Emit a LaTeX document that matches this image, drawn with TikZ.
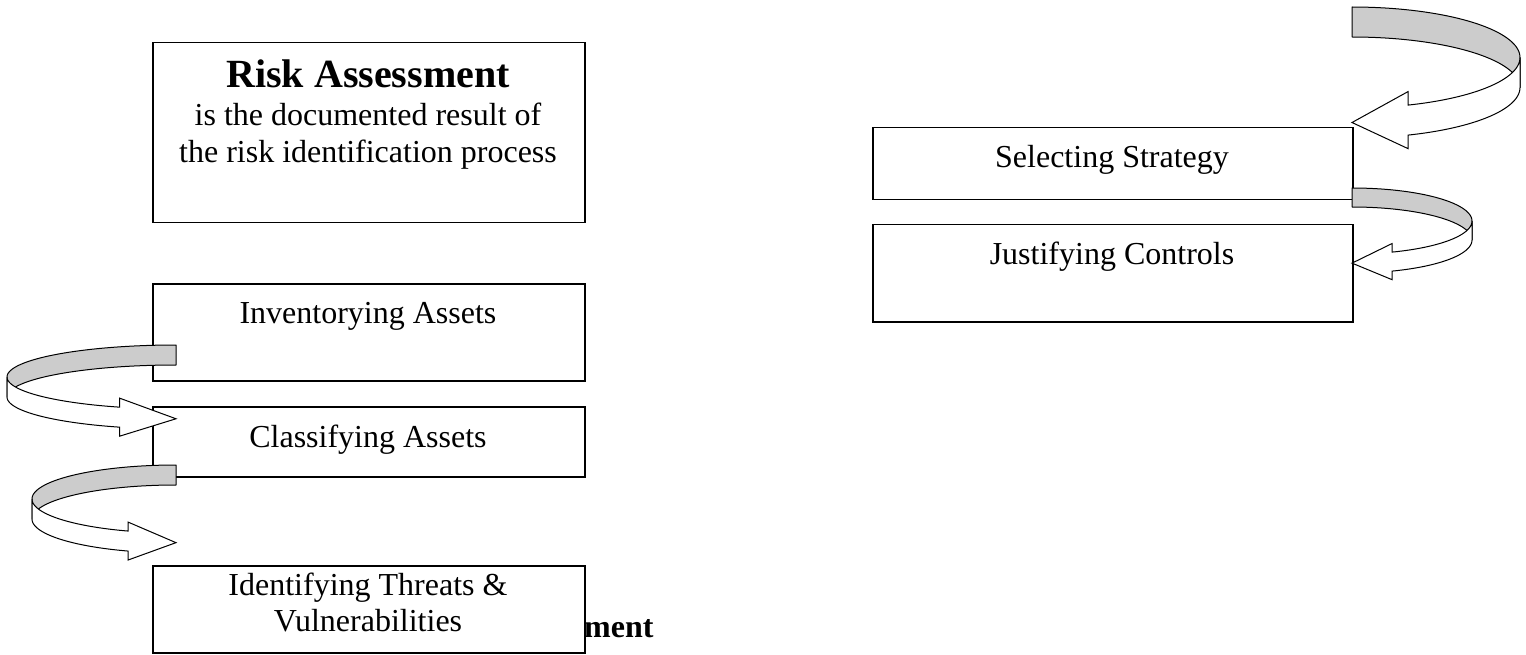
\documentclass[tikz,border=0pt]{standalone}
\usepackage{fontspec}
\setmainfont{Liberation Serif}

% Curled ribbon arrow: #1 = x of the ribbon end and tip, #2 = x of the far turn,
% #3 = y of the ellipse centre, #4 = vertical radius, #5 = ribbon height
\newcommand\curlarrow[5]{%
  % back half of the ribbon (inside shown in grey)
  \filldraw[backband]
    plot[domain=0:90] ({#1+(#2-#1)*sin(\x)},{#3-#4*cos(\x)})
    -- ({#2},{#3+#5})
    -- plot[domain=90:0] ({#1+(#2-#1)*sin(\x)},{#3+#5-#4*cos(\x)})
    -- cycle;
  % front half of the ribbon with its arrow head
  \filldraw[frontband]
    plot[domain=90:160.53] ({#1+(#2-#1)*sin(\x)},{#3-#4*cos(\x)})
    -- ({#1+(#2-#1)/3},{#3+0.9428*#4-0.45*#5})
    -- ({#1},{#3+0.9428*#4+0.58*#5})
    -- ({#1+(#2-#1)/3},{#3+0.9428*#4+1.45*#5})
    -- plot[domain=160.53:90] ({#1+(#2-#1)*sin(\x)},{#3+#5-#4*cos(\x)})
    -- cycle;
}

\begin{document}
\begin{tikzpicture}[x=1pt,y=-1pt,
  box/.style={draw, line width=1.5pt, rectangle, inner sep=0pt, anchor=north west},
  label/.style={anchor=base, inner sep=0pt, font=\fontsize{32}{36.8}\selectfont},
  title/.style={anchor=base, inner sep=0pt, font=\fontsize{40}{46}\selectfont\bfseries},
  boldlabel/.style={anchor=base west, inner sep=0pt, font=\fontsize{32}{36.8}\selectfont\bfseries},
  backband/.style={draw, line width=1pt, fill=black!20, line join=round, samples=40},
  frontband/.style={draw, line width=1pt, fill=white, line join=miter, samples=40},
]
\useasboundingbox (0,0) rectangle (1526,655);

% partly hidden caption
\node[boldlabel] (caption) at (584,637) {ment};

% boxes
\node[box, minimum width=432pt, minimum height=180pt] (ra)  at (152,42)  {};
\node[box, minimum width=432pt, minimum height=97pt]  (inv) at (152,283) {};
\node[box, minimum width=432pt, minimum height=70pt]  (cla) at (152,406) {};
\node[box, minimum width=432pt, minimum height=87pt]  (idt) at (152,565) {};
\node[box, minimum width=480pt, minimum height=72pt]  (sel) at (872,127) {};
\node[box, minimum width=480pt, minimum height=97pt]  (jus) at (872,224) {};

% box texts
\node[title] (ratitle) at (368,87.7) {Risk Assessment};
\node[label] (radesc) at (368,126)
  {\begin{tabular}[t]{@{}c@{}}is the documented result of\\the risk identification process\end{tabular}};
\node[label] (invtext) at (368,323) {Inventorying Assets};
\node[label] (clatext) at (368,447) {Classifying Assets};
\node[label] (idttext) at (368,595)
  {\begin{tabular}[t]{@{}c@{}}Identifying Threats \&\\Vulnerabilities\end{tabular}};
\node[label] (seltext) at (1112,168) {Selecting Strategy};
\node[label] (justext) at (1112,265) {Justifying Controls};

% curled arrows between the steps
\curlarrow{176}{7}{377}{32}{20}
\curlarrow{176}{32}{499}{34}{20}
\curlarrow{1352}{1520}{57.5}{50.5}{30}
\curlarrow{1352}{1472}{221}{33}{19}
\end{tikzpicture}
\end{document}
